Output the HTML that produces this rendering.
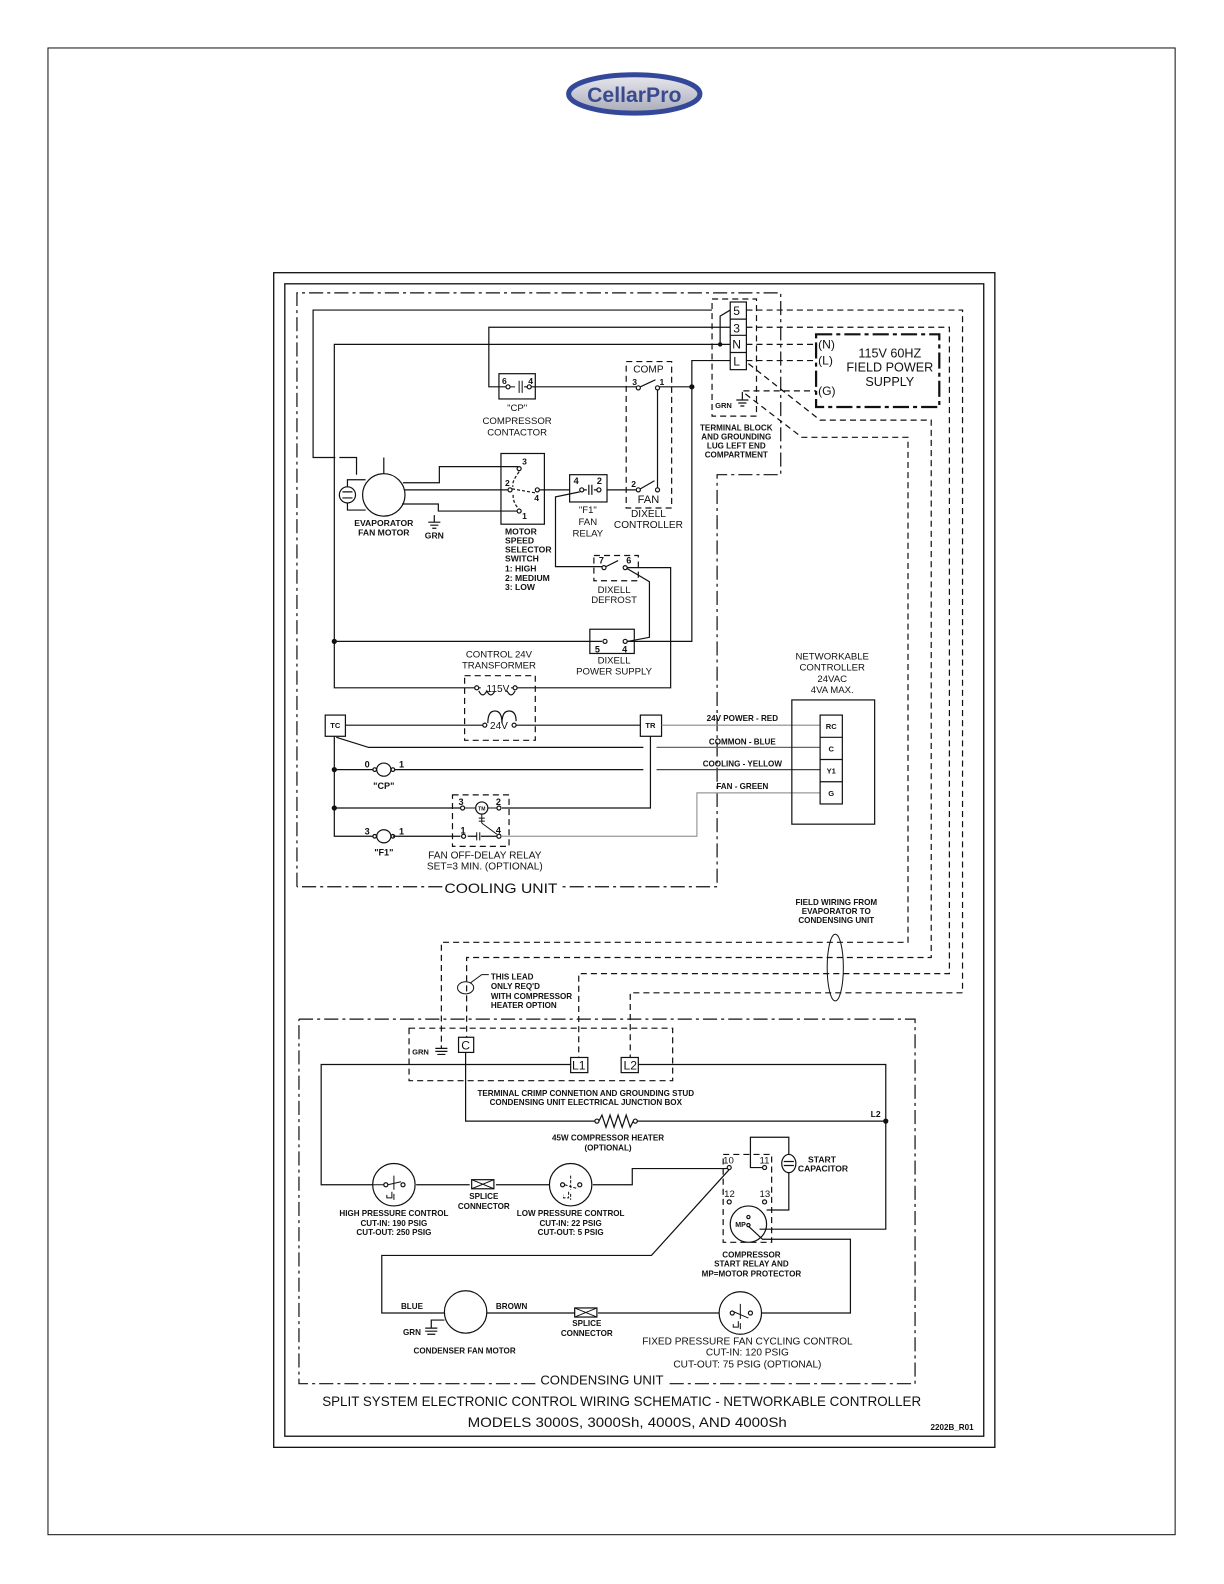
<!DOCTYPE html>
<html><head><meta charset="utf-8"><style>
html,body{margin:0;padding:0;background:#fff;}
svg{display:block;}
text{font-family:"Liberation Sans",sans-serif;fill:#111;}
.s{font-size:8.5px;font-weight:bold;}
.m{font-size:10.5px;}
.l{font-size:14px;}
</style></head><body>
<svg width="1224" height="1584" viewBox="0 0 1224 1584" xmlns="http://www.w3.org/2000/svg">
<g transform="scale(1.01)" fill="none" stroke="#111" stroke-width="1.2">
<rect x="47.5" y="47.5" width="1116" height="1472" stroke-width="1"/>
<rect x="271" y="270" width="714" height="1163" stroke-width="1.3"/>
<rect x="282" y="281" width="692" height="1141" stroke-width="1.3"/>
<defs><linearGradient id="lg" x1="0" y1="0" x2="0" y2="1"><stop offset="0" stop-color="#e8e8ee"/><stop offset="1" stop-color="#a9abb8"/></linearGradient></defs>
<ellipse cx="628" cy="93" rx="65" ry="19" fill="url(#lg)" stroke="#34489a" stroke-width="5"/>
<text x="628" y="101" text-anchor="middle" style="font-size:21px;font-weight:bold;fill:#3a4a90;stroke:none">CellarPro</text>

<path d="M294 878 V290 H773 V470 H710 V878 H555 M438 878 H294" stroke-dasharray="14,4,3,4"/>
<text x="496" y="884" text-anchor="middle" class="l" stroke="none" textLength="112" lengthAdjust="spacingAndGlyphs">COOLING UNIT</text>

<rect x="705" y="296" width="44" height="116" stroke-dasharray="6,4"/>
<rect x="723" y="299" width="16" height="67"/>
<path d="M723 316 H739 M723 332 H739 M723 349 H739"/>
<g stroke="none" style="font-size:12px"><text x="726" y="312">5</text><text x="726" y="329">3</text><text x="725" y="345">N</text><text x="726" y="362">L</text></g>
<path d="M723 307 L713 313 V340"/>
<circle cx="713" cy="341" r="1.6" fill="#111"/>
<path d="M735 388 V396 M729 396 H741 M731 399 H739 M733 402 H737"/>
<text x="708" y="404" class="s" stroke="none" style="font-size:7.5px">GRN</text>
<g class="s" stroke="none" text-anchor="middle" style="font-size:8px"><text x="729" y="426">TERMINAL BLOCK</text><text x="729" y="435">AND GROUNDING</text><text x="729" y="444">LUG LEFT END</text><text x="729" y="453">COMPARTMENT</text></g>

<rect x="808" y="331" width="122" height="72" stroke-width="2.2" stroke-dasharray="16,4,4,4"/>
<g stroke="none" text-anchor="middle" style="font-size:12.5px"><text x="881" y="354">115V 60HZ</text><text x="881" y="368">FIELD POWER</text><text x="881" y="382">SUPPLY</text></g>
<g stroke="none" style="font-size:12px"><text x="810" y="345">(N)</text><text x="810" y="361">(L)</text><text x="810" y="391">(G)</text></g>
<path d="M739 341 H808 M739 357 H808 M736 387 H808" stroke-dasharray="6,4"/>
<path d="M739 307 H953 V983 H624 V1047" stroke-dasharray="6,4"/>
<path d="M739 324 H940 V964 H573 V1047" stroke-dasharray="6,4"/>
<path d="M741 360 L812 416 H922 V948 H462 V1027" stroke-dasharray="6,4"/>
<path d="M738 390 L794 433 H899 V933 H437 V1035" stroke-dasharray="6,4"/>
<ellipse cx="827" cy="958" rx="8" ry="33" stroke-width="1"/>
<g class="s" stroke="none" text-anchor="middle" style="font-size:8px"><text x="828" y="896">FIELD WIRING FROM</text><text x="828" y="905">EVAPORATOR TO</text><text x="828" y="914">CONDENSING UNIT</text></g>

<path d="M705 307 H310 V453 H332 M336 453 H353 V470"/>
<path d="M723 341 H331 V681 H470"/>
<circle cx="331" cy="635" r="2" fill="#111"/>
<path d="M331 635 H596"/>
<path d="M723 357 H685 V635 H620"/>
<circle cx="685" cy="383" r="2" fill="#111"/>
<path d="M723 324 H484 V383 H505 M519 383 H630 M652 383 H685"/>
<rect x="494" y="370" width="36" height="25"/>
<g stroke="none" class="s"><text x="497" y="380">6</text><text x="523" y="380">4</text></g>
<path d="M504 383 H510 M514 377 V389 M517 377 V389 M521 383 H526" stroke-width="1"/>
<circle cx="503" cy="383" r="2" fill="#fff"/><circle cx="524" cy="383" r="2" fill="#fff"/>
<g class="s" stroke="none" text-anchor="middle" style="font-size:9.5px;font-weight:normal"><text x="512" y="407">"CP"</text><text x="512" y="420">COMPRESSOR</text><text x="512" y="431">CONTACTOR</text></g>
<rect x="620" y="358" width="45" height="145" stroke-dasharray="6,4"/>
<text x="642" y="369" text-anchor="middle" stroke="none" style="font-size:10px">COMP</text>
<g stroke="none" class="s"><text x="626" y="381">3</text><text x="653" y="381">1</text><text x="625" y="482">2</text></g>
<circle cx="632" cy="384" r="2" fill="#fff"/><circle cx="651" cy="384" r="2" fill="#fff"/>
<path d="M634 383 L649 376 M651 386 V483"/>
<circle cx="632" cy="485" r="2" fill="#fff"/><circle cx="651" cy="485" r="2" fill="#fff"/>
<path d="M634 484 L648 476 M601 485 H630"/>
<text x="642" y="498" text-anchor="middle" stroke="none" style="font-size:11px">FAN</text>
<g stroke="none" text-anchor="middle" style="font-size:10px"><text x="642" y="512">DIXELL</text><text x="642" y="523">CONTROLLER</text></g>

<circle cx="380" cy="490" r="21"/>
<path d="M380 469 V453"/>
<circle cx="344" cy="490" r="8"/>
<path d="M339 487 H349 M339 493 H349 M344 482 V475 H362 M344 498 V505 H362"/>
<path d="M399 478 H435 V462 H513 M400 485 H503 M398 499 H434 V506 H512"/>
<path d="M430 510 V517 M424 517 H436 M426 520 H434 M428 523 H432"/>
<g stroke="none" class="s" text-anchor="middle"><text x="380" y="521">EVAPORATOR</text><text x="380" y="530">FAN MOTOR</text><text x="430" y="533">GRN</text></g>
<rect x="496" y="449" width="43" height="70"/>
<circle cx="514" cy="464" r="2" fill="#fff"/><circle cx="505" cy="485" r="2" fill="#fff"/><circle cx="514" cy="506" r="2" fill="#fff"/><circle cx="532" cy="485" r="2" fill="#fff"/>
<path d="M507 484 L530 488 M514 467 Q506 478 508 482 M508 490 Q508 498 513 503" stroke-dasharray="3,2"/>
<path d="M534 485 H564"/>
<g stroke="none" class="s"><text x="517" y="460">3</text><text x="500" y="481">2</text><text x="517" y="514">1</text><text x="529" y="496">4</text></g>
<g stroke="none" class="s"><text x="500" y="529">MOTOR</text><text x="500" y="538">SPEED</text><text x="500" y="547">SELECTOR</text><text x="500" y="556">SWITCH</text><text x="500" y="566">1:  HIGH</text><text x="500" y="575">2:  MEDIUM</text><text x="500" y="584">3:  LOW</text></g>
<rect x="564" y="470" width="37" height="27"/>
<g stroke="none" class="s" style="font-size:9px"><text x="568" y="479">4</text><text x="591" y="479">2</text></g>
<path d="M578 485 H581 M583 480 V490 M586 480 V490 M588 485 H592"/>
<circle cx="576" cy="485" r="2" fill="#fff"/><circle cx="593" cy="485" r="2" fill="#fff"/>
<g stroke="none" text-anchor="middle" style="font-size:9.5px"><text x="582" y="508">"F1"</text><text x="582" y="520">FAN</text><text x="582" y="531">RELAY</text></g>
<path d="M574 487 L550 492 V561 H596"/>
<rect x="588" y="550" width="44" height="25" stroke-dasharray="6,4"/>
<g stroke="none" class="s" style="font-size:9px"><text x="593" y="558">7</text><text x="620" y="558">6</text></g>
<circle cx="598" cy="562" r="2" fill="#fff"/><circle cx="619" cy="562" r="2" fill="#fff"/>
<path d="M600 561 L612 555 M621 562 H664 V681 H510 M621 563 L643 576 V631 L622 635"/>
<g stroke="none" text-anchor="middle" style="font-size:9.5px"><text x="608" y="587">DIXELL</text><text x="608" y="597">DEFROST</text></g>
<rect x="584" y="623" width="44" height="24"/>
<circle cx="599" cy="635" r="2" fill="#fff"/><circle cx="619" cy="635" r="2" fill="#fff"/>
<g stroke="none" class="s" style="font-size:9px"><text x="589" y="646">5</text><text x="616" y="646">4</text></g>
<g stroke="none" text-anchor="middle" style="font-size:9.5px"><text x="608" y="657">DIXELL</text><text x="608" y="668">POWER SUPPLY</text></g>
<rect x="460" y="669" width="70" height="64" stroke-dasharray="6,4"/>
<g stroke="none" text-anchor="middle" style="font-size:9.5px"><text x="494" y="651">CONTROL 24V</text><text x="494" y="662">TRANSFORMER</text></g>
<circle cx="472" cy="681" r="2" fill="#fff"/><circle cx="510" cy="681" r="2" fill="#fff"/>
<path d="M474 681 H476 M508 681 H506 M474 684 q4 8 8 0 q4 8 8 0 M502 684 q4 8 8 0"/>
<text x="493" y="685" text-anchor="middle" stroke="none" style="font-size:10px">115V</text>
<path d="M483 716 q0 -12 7 -12 q7 0 7 12 M497 716 q0 -12 7 -12 q7 0 7 10"/>
<circle cx="480" cy="718" r="2" fill="#fff"/><circle cx="509" cy="718" r="2" fill="#fff"/>
<text x="494" y="722" text-anchor="middle" stroke="none" style="font-size:10px">24V</text>
<rect x="322" y="708" width="20" height="21" fill="#fff"/>
<text x="332" y="721" text-anchor="middle" class="s" stroke="none" style="font-size:7.5px">TC</text>
<rect x="634" y="708" width="21" height="21" fill="#fff"/>
<text x="644" y="721" text-anchor="middle" class="s" stroke="none" style="font-size:7.5px">TR</text>
<path d="M342 718 H478 M511 718 H634"/>
<path d="M655 718 H812" stroke="#888"/>
<path d="M331 729 V828 H370 M333 730 L365 740 H637"/>
<path d="M650 740 H812" stroke="#666"/>
<circle cx="331" cy="762" r="2" fill="#111"/><circle cx="331" cy="800" r="2" fill="#111"/>
<path d="M331 762 H370 M389 762 H637"/>
<path d="M650 762 H812" stroke="#444"/>
<ellipse cx="380" cy="762" rx="7" ry="6.5"/><circle cx="371" cy="762" r="1.8" fill="#fff"/><circle cx="389" cy="762" r="1.8" fill="#fff"/>
<g stroke="none" class="s" style="font-size:9px"><text x="361" y="760">0</text><text x="395" y="760">1</text><text x="380" y="781" text-anchor="middle">"CP"</text></g>
<ellipse cx="380" cy="828" rx="7" ry="6.5"/><circle cx="371" cy="828" r="1.8" fill="#fff"/><circle cx="389" cy="828" r="1.8" fill="#fff"/>
<g stroke="none" class="s" style="font-size:9px"><text x="361" y="826">3</text><text x="395" y="826">1</text><text x="380" y="847" text-anchor="middle">"F1"</text></g>
<path d="M331 800 H456 M497 800 H644 V729 M389 828 H456 M463 828 H472 M476 828 H492"/>
<path d="M497 828 H690 V785 H812" stroke="#999"/>
<rect x="448" y="787" width="56" height="51" stroke-dasharray="6,4"/>
<circle cx="477" cy="800" r="6"/><text x="477" y="802.5" text-anchor="middle" class="s" stroke="none" style="font-size:5px">TM</text>
<circle cx="458" cy="800" r="2" fill="#fff"/><circle cx="494" cy="800" r="2" fill="#fff"/><circle cx="459" cy="828" r="2" fill="#fff"/><circle cx="494" cy="828" r="2" fill="#fff"/>
<path d="M460 800 H471 M483 800 H492 M477 806 V815 M474 810 L480 810 M474 813 L480 813 M477 815 L492 826 M472 824 V832 M475 824 V832" stroke-width="1"/>
<g stroke="none" class="s" style="font-size:9px"><text x="454" y="797">3</text><text x="491" y="797">2</text><text x="456" y="825">1</text><text x="491" y="825">4</text></g>
<g stroke="none" text-anchor="middle" style="font-size:10px"><text x="480" y="850">FAN OFF-DELAY RELAY</text><text x="480" y="861">SET=3 MIN. (OPTIONAL)</text></g>
<rect x="784" y="693" width="82" height="123"/>
<g stroke="none" text-anchor="middle" style="font-size:9.5px"><text x="824" y="653">NETWORKABLE</text><text x="824" y="664">CONTROLLER</text><text x="824" y="675">24VAC</text><text x="824" y="686">4VA MAX.</text></g>
<rect x="812" y="708" width="22" height="88" fill="#fff"/>
<path d="M812 730 H834 M812 752 H834 M812 774 H834"/>
<g stroke="none" class="s" text-anchor="middle" style="font-size:7.5px"><text x="823" y="722">RC</text><text x="823" y="744">C</text><text x="823" y="766">Y1</text><text x="823" y="788">G</text></g>
<g stroke="none" class="s" text-anchor="middle" style="font-size:8px"><text x="735" y="714">24V POWER - RED</text><text x="735" y="737">COMMON - BLUE</text><text x="735" y="759">COOLING - YELLOW</text><text x="735" y="781">FAN - GREEN</text></g>

<ellipse cx="461" cy="978" rx="8" ry="6" stroke-width="1"/>
<path d="M466 973 L477 965 H484" stroke-width="1"/>
<g stroke="none" class="s" style="font-size:8px"><text x="486" y="970">THIS LEAD</text><text x="486" y="979">ONLY REQ'D</text><text x="486" y="989">WITH COMPRESSOR</text><text x="486" y="998">HEATER OPTION</text></g>

<path d="M296 1009 H906 V1370 H663 M530 1370 H296 V1009" stroke-dasharray="14,4,3,4"/>
<text x="596" y="1371" text-anchor="middle" class="l" stroke="none" style="font-size:13px">CONDENSING UNIT</text>
<rect x="405" y="1018" width="261" height="52" stroke-dasharray="6,4"/>
<text x="408" y="1044" class="s" stroke="none" style="font-size:7.5px">GRN</text>
<path d="M437 1035 V1038 M431 1038 H443 M431 1041 H443 M433 1044 H441"/>
<rect x="454" y="1027" width="15" height="15" fill="#fff"/><text x="461" y="1039" text-anchor="middle" stroke="none" style="font-size:12px">C</text>
<rect x="565" y="1047" width="17" height="15" fill="#fff"/><text x="573" y="1059" text-anchor="middle" stroke="none" style="font-size:12px">L1</text>
<rect x="615" y="1047" width="17" height="15" fill="#fff"/><text x="624" y="1059" text-anchor="middle" stroke="none" style="font-size:12px">L2</text>
<g stroke="none" class="s" text-anchor="middle" style="font-size:8px"><text x="580" y="1085">TERMINAL CRIMP CONNETION AND GROUNDING STUD</text><text x="580" y="1094">CONDENSING UNIT ELECTRICAL JUNCTION BOX</text></g>
<path d="M565 1054 H318 V1173 H369 M412 1173 H465 M491 1173 H544 M587 1173 H626 V1157 H720"/>
<path d="M632 1054 H877 V1217 H752"/>
<path d="M461 1042 V1110 H591 M630 1110 H877"/>
<circle cx="877" cy="1110" r="2" fill="#111"/>
<text x="862" y="1106" class="s" stroke="none">L2</text>
<path d="M593 1110 L596 1104 L600 1116 L604 1104 L608 1116 L612 1104 L616 1116 L620 1104 L624 1116 L627 1110"/>
<circle cx="591" cy="1110" r="2" fill="#fff"/><circle cx="629" cy="1110" r="2" fill="#fff"/>
<g stroke="none" class="s" text-anchor="middle" style="font-size:8px"><text x="602" y="1129">45W COMPRESSOR HEATER</text><text x="602" y="1139">(OPTIONAL)</text></g>
<circle cx="390" cy="1173" r="21"/>
<circle cx="382" cy="1173" r="2" fill="#fff"/><circle cx="399" cy="1173" r="2" fill="#fff"/>
<path d="M369 1173 H380 M384 1173 L397 1170 M390 1164 V1178 M388 1180 V1186 H383 V1183 M390 1182 V1188" stroke-width="1"/>
<circle cx="565" cy="1173" r="21"/>
<circle cx="557" cy="1173" r="2" fill="#fff"/><circle cx="574" cy="1173" r="2" fill="#fff"/>
<path d="M559 1173 L572 1177 M565 1164 V1178 M563 1180 V1186 H558 V1183 M565 1182 V1188" stroke-width="1" stroke-dasharray="3,1.5"/>
<rect x="467" y="1168" width="22" height="9"/><path d="M467 1168 L489 1177 M467 1177 L489 1168" stroke-width="1"/>
<g stroke="none" class="s" text-anchor="middle" style="font-size:8px"><text x="479" y="1187">SPLICE</text><text x="479" y="1197">CONNECTOR</text>
<text x="390" y="1204">HIGH PRESSURE CONTROL</text><text x="390" y="1214">CUT-IN:  190 PSIG</text><text x="390" y="1223">CUT-OUT:  250 PSIG</text>
<text x="565" y="1204">LOW PRESSURE CONTROL</text><text x="565" y="1214">CUT-IN:  22 PSIG</text><text x="565" y="1223">CUT-OUT:  5 PSIG</text></g>
<rect x="716" y="1143" width="48" height="87" stroke-dasharray="6,4"/>
<g stroke="none" class="s" style="font-size:9.5px;font-weight:normal"><text x="716" y="1152">10</text><text x="752" y="1152">11</text><text x="717" y="1185">12</text><text x="752" y="1185">13</text></g>
<circle cx="722" cy="1156" r="2" fill="#fff"/><circle cx="757" cy="1156" r="2" fill="#fff"/><circle cx="722" cy="1190" r="2" fill="#fff"/><circle cx="757" cy="1190" r="2" fill="#fff"/>
<path d="M755 1156 H743 V1126 H781 V1144 M781 1160 V1198 H759"/>
<ellipse cx="781" cy="1152" rx="7" ry="9" fill="#fff"/><path d="M776 1150 H786 M776 1154 H786"/>
<g stroke="none" class="s" style="font-size:8.5px"><text x="800" y="1151">START</text><text x="790" y="1160">CAPACITOR</text></g>
<circle cx="741" cy="1212" r="18"/>
<text x="728" y="1215" class="s" stroke="none" style="font-size:7px">MP</text>
<circle cx="741" cy="1205" r="1.6" fill="#fff"/><circle cx="741" cy="1213" r="1.6" fill="#fff"/>
<path d="M741 1214 L755 1227 H842 V1300 H754 M722 1158 L645 1243 H378 V1300 H440"/>
<g stroke="none" class="s" text-anchor="middle" style="font-size:8px"><text x="744" y="1245">COMPRESSOR</text><text x="744" y="1254">START RELAY AND</text><text x="744" y="1264">MP=MOTOR PROTECTOR</text></g>
<circle cx="461" cy="1299" r="21"/>
<path d="M482 1300 H569 M592 1300 H712"/>
<path d="M440 1307 H427 V1315 M421 1315 H433 M421 1318 H433 M423 1321 H431"/>
<g stroke="none" class="s" style="font-size:8px"><text x="397" y="1296">BLUE</text><text x="491" y="1296">BROWN</text><text x="399" y="1322">GRN</text><text x="460" y="1340" text-anchor="middle">CONDENSER FAN MOTOR</text>
<text x="581" y="1313" text-anchor="middle">SPLICE</text><text x="581" y="1323" text-anchor="middle">CONNECTOR</text></g>
<rect x="569" y="1295" width="22" height="9"/><path d="M569 1295 L591 1304 M569 1304 L591 1295" stroke-width="1"/>
<circle cx="733" cy="1300" r="21"/>
<circle cx="725" cy="1300" r="2" fill="#fff"/><circle cx="743" cy="1300" r="2" fill="#fff"/>
<path d="M727 1299 L741 1305 M733 1291 V1306 M731 1308 V1314 H726 V1311 M733 1310 V1316" stroke-width="1"/>
<g stroke="none" text-anchor="middle" style="font-size:10px"><text x="740" y="1331">FIXED PRESSURE FAN CYCLING CONTROL</text><text x="740" y="1342">CUT-IN:  120 PSIG</text><text x="740" y="1354">CUT-OUT:  75 PSIG (OPTIONAL)</text></g>
<text x="319" y="1392" stroke="none" style="font-size:13.5px" textLength="593" lengthAdjust="spacingAndGlyphs">SPLIT SYSTEM ELECTRONIC CONTROL WIRING SCHEMATIC - NETWORKABLE CONTROLLER</text>
<text x="463" y="1413" stroke="none" style="font-size:13.5px" textLength="316" lengthAdjust="spacingAndGlyphs">MODELS 3000S, 3000Sh, 4000S, AND 4000Sh</text>
<text x="964" y="1416" text-anchor="end" class="s" stroke="none" style="font-size:8px">2202B_R01</text>
</g>
</svg>
</body></html>
